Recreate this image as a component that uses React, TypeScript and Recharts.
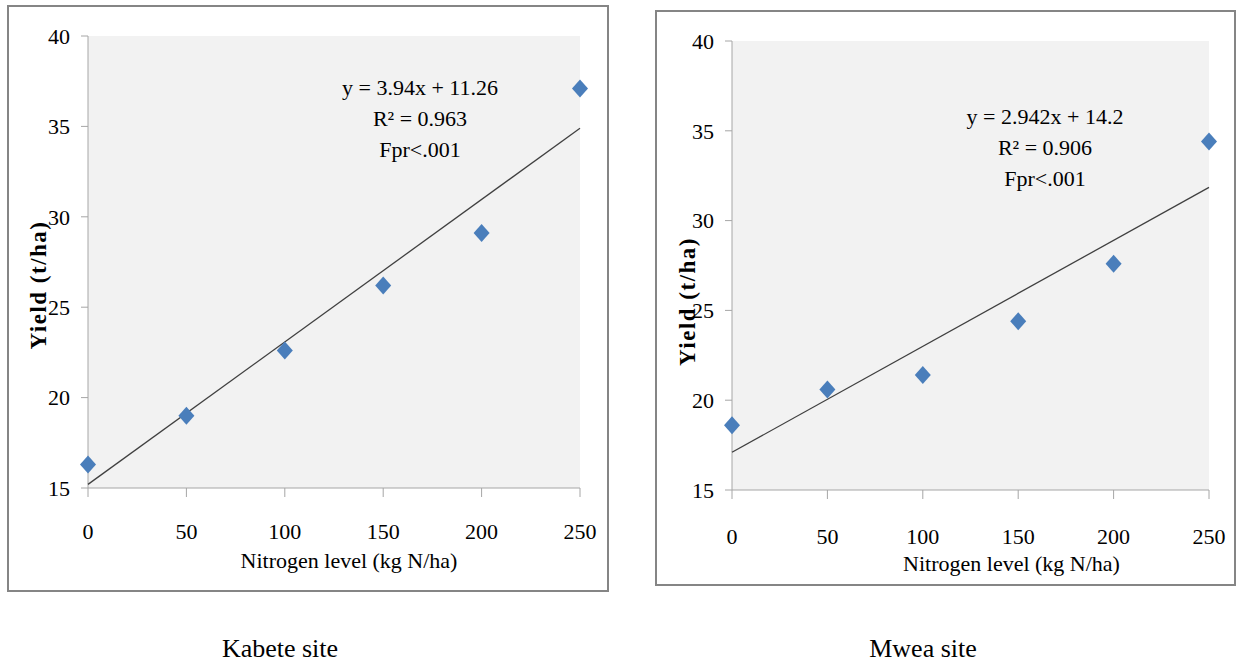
import React from "react"
import { ScatterChart, Scatter, XAxis, YAxis, CartesianGrid, Label } from "recharts"

const nitrogen = [0, 50, 100, 150, 200, 250]
const kabeteYield = [16.3, 19.0, 22.6, 26.2, 29.1, 37.1]
const mweaYield = [18.6, 20.6, 21.4, 24.4, 27.6, 34.4]
const trendX = [0, 250]
const kabeteTrend = [15.2, 34.9]
const mweaTrend = [17.1, 31.85]
const xTicks = [0, 50, 100, 150, 200, 250]
const yTicks = [15, 20, 25, 30, 35, 40]
const kabeteNotes = ["y = 3.94x + 11.26", "R\u00b2 = 0.963", "Fpr<.001"]
const mweaNotes = ["y = 2.942x + 14.2", "R\u00b2 = 0.906", "Fpr<.001"]

const FONT = "'Liberation Serif', 'Times New Roman', serif"
const AXIS = "#a6a6a6"
const DOT = "#4a7ebb"

const Diamond = (props: any) => {
  const { cx, cy } = props
  if (cx == null || cy == null) return <g />
  return <polygon points={`${cx},${cy - 9} ${cx + 8},${cy} ${cx},${cy + 9} ${cx - 8},${cy}`} fill={DOT} />
}

interface SiteProps {
  values: number[]
  trend: number[]
  notes: string[]
  frame: { left: number; top: number; width: number; height: number }
  margin: { top: number; right: number; bottom: number; left: number }
  yAxisWidth: number
  tickGap: number
  xLabel: { dx: number; y: number }
  yLabel: { x: number; dy: number }
  notePos: { x: number; y: number }
}

function SiteChart({ values, trend, notes, frame, margin, yAxisWidth, tickGap, xLabel, yLabel, notePos }: SiteProps) {
  const points = nitrogen.map((n, i) => ({ x: n, y: values[i] }))
  const line = trendX.map((n, i) => ({ x: n, y: trend[i] }))
  const w = frame.width - 4
  const h = frame.height - 4
  const tick = { fontFamily: FONT, fontSize: 22, fill: "#000" }
  return (
    <div
      style={{
        position: "absolute",
        left: frame.left,
        top: frame.top,
        width: frame.width,
        height: frame.height,
        boxSizing: "border-box",
        border: "2px solid #858585",
        background: "#fff",
      }}
    >
      <ScatterChart width={w} height={h} margin={margin}>
        <CartesianGrid fill="#f2f2f2" stroke="none" horizontal={false} vertical={false} />
        <XAxis
          type="number"
          dataKey="x"
          domain={[0, 250]}
          ticks={xTicks}
          height={80}
          tickSize={9}
          tickMargin={tickGap}
          stroke={AXIS}
          tick={tick}
        >
          <Label
            content={({ viewBox }: any) => (
              <text
                x={viewBox.x + viewBox.width / 2 + xLabel.dx}
                y={xLabel.y}
                textAnchor="middle"
                dominantBaseline="central"
                fontFamily={FONT}
                fontSize={22}
                fill="#000"
              >
                Nitrogen level (kg N/ha)
              </text>
            )}
          />
        </XAxis>
        <YAxis
          type="number"
          dataKey="y"
          domain={[15, 40]}
          ticks={yTicks}
          width={yAxisWidth}
          tickSize={7}
          tickMargin={11}
          stroke={AXIS}
          tick={tick}
        >
          <Label
            content={({ viewBox }: any) => {
              const cy = viewBox.y + viewBox.height / 2 + yLabel.dy
              return (
                <text
                  x={yLabel.x}
                  y={cy}
                  transform={`rotate(-90 ${yLabel.x} ${cy})`}
                  textAnchor="middle"
                  dominantBaseline="central"
                  fontFamily={FONT}
                  fontSize={23}
                  fontWeight="bold"
                  letterSpacing={1.5}
                  fill="#000"
                >
                  Yield (t/ha)
                </text>
              )
            }}
          />
        </YAxis>
        <Scatter
          data={line}
          line={{ stroke: "#404040", strokeWidth: 1.3 }}
          shape={() => <g />}
          isAnimationActive={false}
        />
        <Scatter data={points} shape={Diamond} isAnimationActive={false} />
      </ScatterChart>
      {notes.map((t, i) => (
        <div
          key={t}
          style={{
            position: "absolute",
            left: notePos.x - frame.left - 100,
            top: notePos.y - frame.top + i * 31 - 14,
            width: 200,
            textAlign: "center",
            fontFamily: FONT,
            fontSize: 22,
            lineHeight: "28px",
            color: "#000",
            whiteSpace: "nowrap",
          }}
        >
          {t}
        </div>
      ))}
    </div>
  )
}

export default function App() {
  return (
    <div style={{ position: "absolute", left: 0, top: 0, width: 1243, height: 664, background: "#fff" }}>
      <SiteChart
        values={kabeteYield}
        trend={kabeteTrend}
        notes={kabeteNotes}
        frame={{ left: 7, top: 5, width: 602, height: 587 }}
        margin={{ top: 29, right: 27, bottom: 22, left: 0 }}
        yAxisWidth={79}
        tickGap={26}
        xLabel={{ dx: 15, y: 553 }}
        yLabel={{ x: 29, dy: 23 }}
        notePos={{ x: 418, y: 86 }}
      />
      <SiteChart
        values={mweaYield}
        trend={mweaTrend}
        notes={mweaNotes}
        frame={{ left: 655, top: 10, width: 581, height: 576 }}
        margin={{ top: 29, right: 25, bottom: 14, left: 0 }}
        yAxisWidth={75}
        tickGap={29}
        xLabel={{ dx: 41, y: 551 }}
        yLabel={{ x: 30, dy: 36 }}
        notePos={{ x: 1043, y: 115 }}
      />
      <div style={{ position: "absolute", left: 180, top: 633, width: 200, textAlign: "center", fontFamily: FONT, fontSize: 26, lineHeight: "32px" }}>
        Kabete site
      </div>
      <div style={{ position: "absolute", left: 823, top: 633, width: 200, textAlign: "center", fontFamily: FONT, fontSize: 26, lineHeight: "32px" }}>
        Mwea site
      </div>
    </div>
  )
}
